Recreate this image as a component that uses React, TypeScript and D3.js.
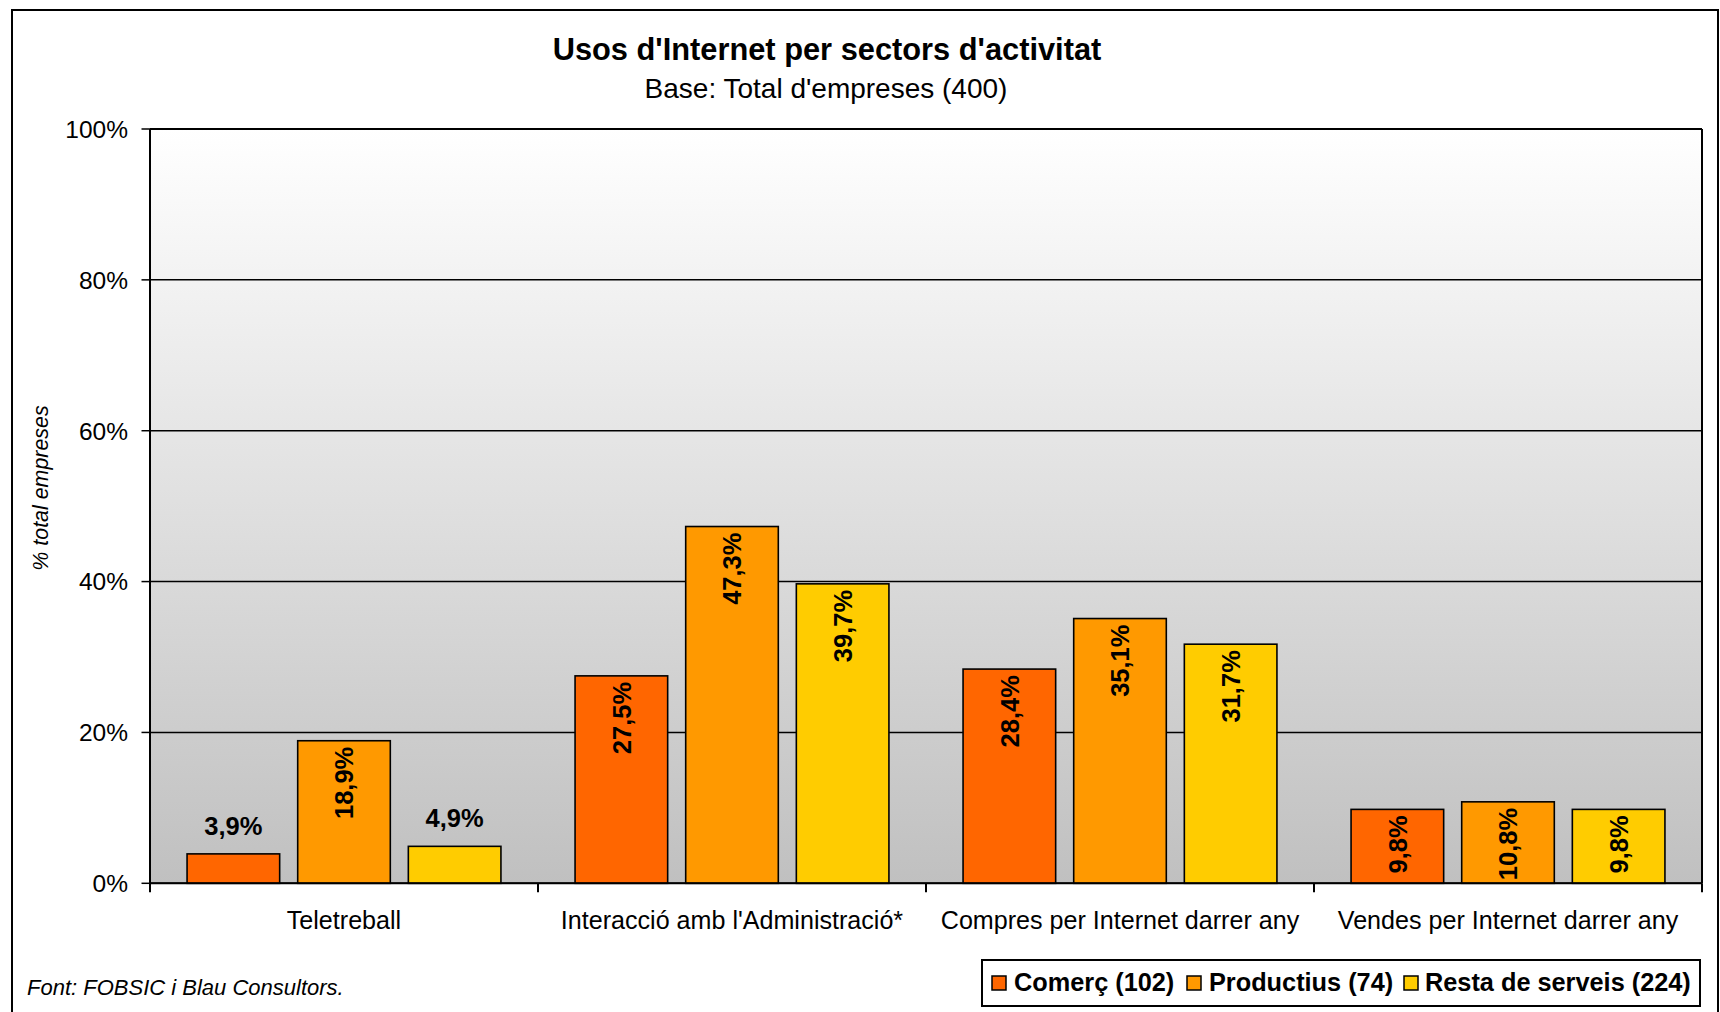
import React from "react";
import * as d3 from "d3";

const categories = [
  "Teletreball",
  "Interacció amb l'Administració*",
  "Compres per Internet darrer any",
  "Vendes per Internet darrer any",
];
const seriesNames = ["Comerç (102)", "Productius (74)", "Resta de serveis (224)"];
const comerc = [3.9, 27.5, 28.4, 9.8];
const productius = [18.9, 47.3, 35.1, 10.8];
const resta = [4.9, 39.7, 31.7, 9.8];
const seriesValues = [comerc, productius, resta];
const seriesColors = ["#FF6600", "#FF9900", "#FFCC00"];
const yTicks = [0, 20, 40, 60, 80, 100];

const title = "Usos d'Internet per sectors d'activitat";
const subtitle = "Base: Total d'empreses (400)";
const yTitle = "% total empreses";
const footnote = "Font: FOBSIC i Blau Consultors.";

const W = 1720;
const H = 1012;
const plot = { left: 150, right: 1702, top: 129, bottom: 883.3 };
const FONT = "'Liberation Sans', Arial, sans-serif";
const LABEL_SIZE = 25.5;

function fmt(v: number) {
  return v.toFixed(1).replace(".", ",") + "%";
}

export default function App() {
  const x = d3.scaleBand<string>().domain(categories).range([plot.left, plot.right]).paddingInner(0).paddingOuter(0);
  const xi = d3
    .scaleBand<string>()
    .domain(seriesNames)
    .range([0, x.bandwidth()])
    .paddingInner(0.163)
    .paddingOuter(0.335);
  const y = d3.scaleLinear().domain([0, 100]).range([plot.bottom, plot.top]);

  const labelLen = (s: string) => {
    let em = 0;
    for (const c of s) em += c === "," ? 0.278 : c === "%" ? 0.889 : 0.556;
    return em * LABEL_SIZE;
  };

  const legendX = [992, 1187, 1404];
  const legendTextX = [1014, 1209, 1425];

  return (
    <svg width={W} height={H} style={{ position: "absolute", left: 0, top: 0, display: "block" }} fontFamily={FONT}>
      <defs>
        <linearGradient id="bg" x1="0" y1="0" x2="0" y2="1">
          <stop offset="0" stopColor="#ffffff" />
          <stop offset="1" stopColor="#c0c0c0" />
        </linearGradient>
      </defs>
      <rect x={0} y={0} width={W} height={H} fill="#fff" />
      <rect x={12} y={10} width={1706} height={1020} fill="#fff" stroke="#000" strokeWidth={2} />

      <text x={827} y={60} textAnchor="middle" fontSize={30.8} fontWeight="bold">
        {title}
      </text>
      <text x={826} y={98} textAnchor="middle" fontSize={28}>
        {subtitle}
      </text>

      <rect
        x={plot.left}
        y={plot.top}
        width={plot.right - plot.left}
        height={plot.bottom - plot.top}
        fill="url(#bg)"
      />
      {yTicks.map((t) => (
        <g key={t}>
          <line x1={plot.left} x2={plot.right} y1={y(t)} y2={y(t)} stroke="#000" strokeWidth={t === 100 ? 2 : 1.5} />
          <line x1={141.5} x2={plot.left} y1={y(t)} y2={y(t)} stroke="#000" strokeWidth={1.5} />
          <text x={128} y={y(t)} dy="0.36em" textAnchor="end" fontSize={24.5}>
            {t + "%"}
          </text>
        </g>
      ))}
      <line x1={plot.right} x2={plot.right} y1={plot.top} y2={plot.bottom} stroke="#000" strokeWidth={2} />

      {categories.map((c, ci) =>
        seriesNames.map((s, si) => {
          const v = seriesValues[si][ci];
          const bx = (x(c) ?? 0) + (xi(s) ?? 0);
          const bw = xi.bandwidth();
          const top = y(v);
          const h = plot.bottom - top;
          const lab = fmt(v);
          const inside = labelLen(lab) < h;
          const cx = bx + bw / 2;
          return (
            <g key={c + s}>
              <rect x={bx} y={top} width={bw} height={h} fill={seriesColors[si]} stroke="#000" strokeWidth={1.6} />
              {inside ? (
                <text
                  transform={`translate(${cx},${top + 6}) rotate(-90)`}
                  dy="0.36em"
                  textAnchor="end"
                  fontSize={LABEL_SIZE}
                  fontWeight="bold"
                >
                  {lab}
                </text>
              ) : (
                <text x={cx} y={top - 19} textAnchor="middle" fontSize={LABEL_SIZE} fontWeight="bold">
                  {lab}
                </text>
              )}
            </g>
          );
        })
      )}

      <line x1={plot.left} x2={plot.left} y1={plot.top} y2={plot.bottom} stroke="#000" strokeWidth={2} />
      <line x1={plot.left} x2={plot.right} y1={plot.bottom} y2={plot.bottom} stroke="#000" strokeWidth={2} />
      {[...categories.map((c) => x(c) ?? 0), plot.right].map((px, i) => (
        <line key={i} x1={px} x2={px} y1={plot.bottom} y2={plot.bottom + 9} stroke="#000" strokeWidth={2} />
      ))}
      {categories.map((c) => (
        <text key={c} x={(x(c) ?? 0) + x.bandwidth() / 2} y={929} textAnchor="middle" fontSize={25.1}>
          {c}
        </text>
      ))}

      <text
        transform={`translate(48,488) rotate(-90)`}
        textAnchor="middle"
        fontSize={21.4}
        fontStyle="italic"
      >
        {yTitle}
      </text>

      <text x={27} y={995} fontSize={22} fontStyle="italic">
        {footnote}
      </text>

      <rect x={982} y={960} width={718} height={46} fill="#fff" stroke="#000" strokeWidth={2} />
      {seriesNames.map((s, i) => (
        <g key={s}>
          <rect x={legendX[i]} y={976} width={14} height={14} fill={seriesColors[i]} stroke="#000" strokeWidth={1.5} />
          <text x={legendTextX[i]} y={991} fontSize={25.3} fontWeight="bold">
            {s}
          </text>
        </g>
      ))}
    </svg>
  );
}
